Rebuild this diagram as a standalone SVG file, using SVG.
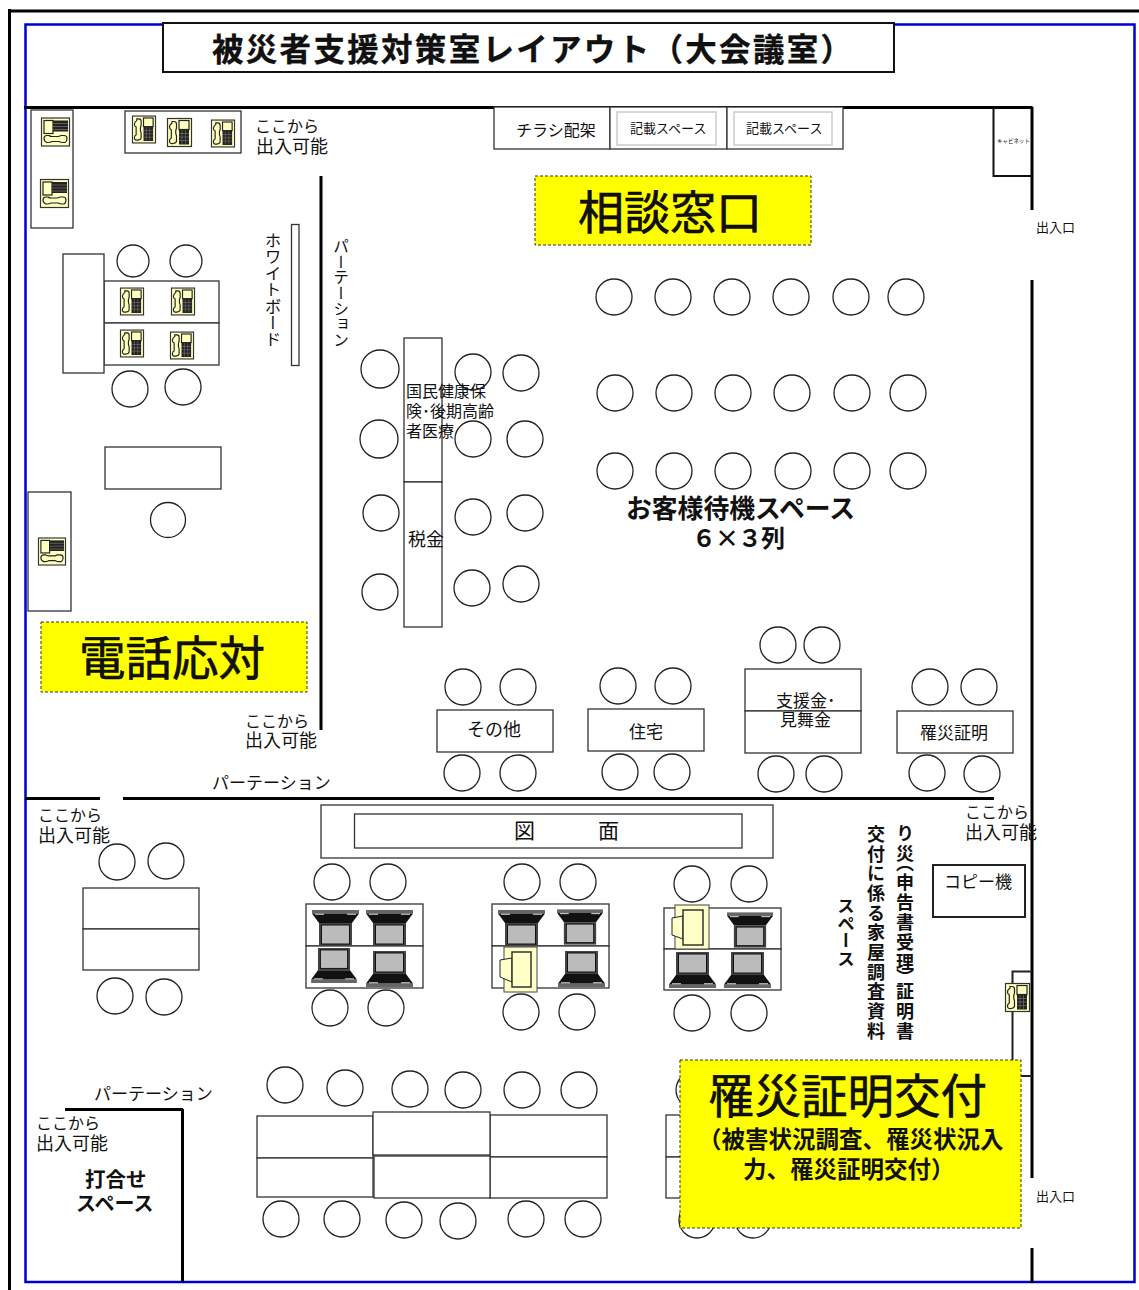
<svg xmlns="http://www.w3.org/2000/svg" width="1139" height="1290" viewBox="0 0 1139 1290">
<style>
text{font-family:"Noto Sans CJK JP","Noto Sans",sans-serif;fill:#111}
.b{font-weight:700}
.h{stroke:#000;stroke-width:.6}
.t{fill:#fff;stroke:#333;stroke-width:1.3}
.c{fill:#fff;stroke:#222;stroke-width:1.3}
.w{fill:none;stroke:#000;stroke-width:3}
.y{fill:#ff0;stroke:#333;stroke-width:1;stroke-dasharray:3 2}
.v{writing-mode:vertical-rl}
.k{font-size:16px}
.d{font-size:18px}
</style>
<defs>
<symbol id="phone" viewBox="0 0 25 29" overflow="visible">
<rect x=".5" y=".5" width="24" height="28" fill="#ffffc0" stroke="#333" stroke-width="1.200"/>
<path d="M5 3.500h2q2.500 0 2.500 2.500v4q-.8 2-.8 4t.8 4v5q0 2-3.500 2.500t-3.500-2.500q0-2 1.800-3v-8q-1.800-1-1.800-3t2.500-4z" fill="#ffffc0" stroke="#222" stroke-width="1.200"/>
<rect x="12" y="2.500" width="10" height="9" fill="#ffffc0" stroke="#222" stroke-width="1.200"/>
<rect x="12" y="11.500" width="10" height="15" fill="#222"/>
<path d="M12 15.500h10M12 19h10M12 22.500h10M15 12v14M18.500 12v14" stroke="#888" stroke-width=".5"/>
</symbol>
<symbol id="phoneL" viewBox="0 0 29 29" overflow="visible">
<rect x=".5" y=".5" width="28" height="28" fill="#ffffc0" stroke="#333" stroke-width="1.200"/>
<rect x="3" y="3" width="9" height="13" fill="#ffffc0" stroke="#222" stroke-width="1.200"/>
<rect x="12" y="3" width="15" height="11" fill="#222"/>
<path d="M12 6h15M12 9h15M12 12h15" stroke="#888" stroke-width=".6"/>
<path d="M6 18q-3 0-3 3t3 4h1q2 0 4-1h7q2 1 4 1h2q2-1 2-4t-3-3h-3q-2 1-3 1h-6q-2 0-3-1z" fill="#ffffc0" stroke="#222" stroke-width="1.200"/>
</symbol>
<symbol id="lap" viewBox="0 0 47 36" overflow="visible">
<rect x="0" y="0" width="47" height="3.500" fill="#666"/>
<path d="M0 3.500h47l-7 9.500H7z" fill="#111"/>
<rect x="3" y="3.600" width="9" height="1.300" fill="#bbb"/><rect x="35" y="3.600" width="9" height="1.300" fill="#bbb"/>
<rect x="7" y="13" width="33" height="23" fill="#444"/>
<rect x="9.500" y="15" width="28" height="19" fill="#bbb" stroke="#111"/>
</symbol>
</defs>
<rect width="1139" height="1290" fill="#fff"/>
<g id="frame">
<path d="M9.500 9V1290M8 11H1139" fill="none" stroke="#000" stroke-width="3"/>
<rect x="25.500" y="24.500" width="1109" height="1257.500" fill="none" stroke="#0000cc" stroke-width="2.500"/>
</g>
<g id="title"><rect x="163" y="23" width="731" height="49" fill="#fff" stroke="#111" stroke-width="2"/>
<text class="b" x="212" y="61" font-size="31.500" textLength="640" lengthAdjust="spacing" stroke="#000" stroke-width=".3">被災者支援対策室レイアウト（大会議室）</text></g>
<g id="connectors">
<path class="w" d="M24 107.500H1032.500M1032 107V210M1032 280V1178M1032 1248V1283" stroke-width="2.500"/>
<path class="w" d="M321 176V730M25 798.500H100M123 798.500H994M65 1109.500H183M182.500 1109V1282"/>
<path d="M1012.500 1060V971.500H1032M1021 1076H1032" fill="none" stroke="#222" stroke-width="2"/>
<path d="M993.500 107V176H1032" fill="none" stroke="#111" stroke-width="2"/>
</g>
<g id="racks">
<rect class="t" x="31" y="110" width="42" height="118"/>
<rect class="t" x="125" y="111" width="116" height="42"/>
<rect class="t" x="28" y="492" width="43" height="119"/>
<rect class="t" x="291.500" y="224.500" width="7.500" height="141"/>
</g>
<g id="counter">
<rect class="t" x="494" y="107" width="116" height="42"/>
<rect class="t" x="610" y="107" width="117" height="42"/>
<rect class="t" x="727" y="107" width="116" height="42"/>
<rect x="617" y="112" width="99" height="33" fill="#fff" stroke="#ccc" stroke-width="1.500"/>
<rect x="734" y="112" width="98" height="33" fill="#fff" stroke="#ccc" stroke-width="1.500"/>
<text x="516" y="136" font-size="16">チラシ配架</text>
<text x="630" y="133" font-size="13">記載スペース</text>
<text x="746" y="133" font-size="13">記載スペース</text>
<text x="997" y="143" font-size="5.500">キャビネット</text>
</g>
<g id="tables">
<rect class="t" x="104" y="281" width="115" height="42"/><rect class="t" x="104" y="323" width="115" height="42"/>
<rect class="t" x="63" y="254" width="41" height="119"/>
<rect class="t" x="105" y="447" width="116" height="42"/>
<rect class="t" x="404" y="338" width="38" height="144"/><rect class="t" x="404" y="482" width="38" height="145"/>
<rect class="t" x="437" y="710" width="116" height="42"/>
<rect class="t" x="588" y="709" width="116" height="42"/>
<rect class="t" x="745" y="669" width="116" height="42"/><rect class="t" x="745" y="711" width="116" height="42"/>
<rect class="t" x="897" y="711" width="116" height="42"/>
<rect class="t" x="321" y="805" width="452" height="53"/><rect class="t" x="354.500" y="814" width="387.500" height="34"/>
<rect class="t" x="83" y="888" width="116" height="41"/><rect class="t" x="83" y="929" width="116" height="41"/>
<rect class="t" x="306" y="904" width="117" height="42"/><rect class="t" x="306" y="946" width="117" height="42"/>
<rect class="t" x="492" y="904" width="117" height="42"/><rect class="t" x="492" y="946" width="117" height="42"/>
<rect class="t" x="664" y="908" width="117" height="41"/><rect class="t" x="664" y="949" width="117" height="41"/>
<rect class="t" x="257" y="1116" width="116" height="42"/><rect class="t" x="257" y="1158" width="116" height="39"/>
<rect class="t" x="490" y="1115" width="117" height="42"/><rect class="t" x="490" y="1157" width="117" height="41"/>
<rect class="t" x="373" y="1112" width="117" height="43" stroke-width="1.500"/><rect class="t" x="374" y="1156" width="116" height="42" stroke-width="1.500"/>
<rect class="t" x="666" y="1115" width="60" height="42"/><rect class="t" x="666" y="1157" width="60" height="41"/>
<rect x="933" y="865" width="92" height="52" fill="#fff" stroke="#222" stroke-width="2"/>
</g>
<g id="seats">
<circle class="c" cx="133" cy="261" r="16"/><circle class="c" cx="186" cy="261" r="16"/><circle class="c" cx="130" cy="389" r="18"/><circle class="c" cx="183" cy="387" r="18"/><circle class="c" cx="168" cy="520" r="17.500"/>
<circle class="c" cx="380" cy="369" r="19"/><circle class="c" cx="473" cy="372" r="18"/><circle class="c" cx="521" cy="373" r="18"/><circle class="c" cx="379" cy="439" r="19"/><circle class="c" cx="473" cy="439" r="18"/><circle class="c" cx="525" cy="439" r="18"/><circle class="c" cx="381" cy="513" r="18"/><circle class="c" cx="473" cy="517" r="18"/><circle class="c" cx="525" cy="513" r="18"/><circle class="c" cx="380" cy="592" r="18"/><circle class="c" cx="472" cy="588" r="18"/><circle class="c" cx="521" cy="584" r="18"/>
<circle class="c" cx="614" cy="297" r="18"/><circle class="c" cx="673" cy="297" r="18"/><circle class="c" cx="732" cy="297" r="18"/><circle class="c" cx="791" cy="297" r="18"/><circle class="c" cx="851" cy="297" r="18"/><circle class="c" cx="906" cy="297" r="18"/>
<circle class="c" cx="615" cy="393" r="18"/><circle class="c" cx="674" cy="393" r="18"/><circle class="c" cx="733" cy="393" r="18"/><circle class="c" cx="792" cy="393" r="18"/><circle class="c" cx="852" cy="393" r="18"/><circle class="c" cx="908" cy="393" r="18"/>
<circle class="c" cx="615" cy="471" r="18"/><circle class="c" cx="674" cy="471" r="18"/><circle class="c" cx="733" cy="471" r="18"/><circle class="c" cx="793" cy="471" r="18"/><circle class="c" cx="852" cy="471" r="18"/><circle class="c" cx="908" cy="471" r="18"/>
<circle class="c" cx="463" cy="687" r="18"/><circle class="c" cx="518" cy="687" r="18"/><circle class="c" cx="618" cy="686" r="18"/><circle class="c" cx="673" cy="686" r="18"/><circle class="c" cx="778" cy="645" r="18"/><circle class="c" cx="822" cy="645" r="18"/><circle class="c" cx="930" cy="687" r="18"/><circle class="c" cx="979" cy="687" r="18"/>
<circle class="c" cx="462" cy="773" r="18"/><circle class="c" cx="518" cy="773" r="18"/><circle class="c" cx="620" cy="772" r="18"/><circle class="c" cx="672" cy="772" r="18"/><circle class="c" cx="776" cy="774" r="18"/><circle class="c" cx="824" cy="774" r="18"/><circle class="c" cx="927" cy="773" r="18"/><circle class="c" cx="982" cy="774" r="18"/>
<circle class="c" cx="117" cy="862" r="18"/><circle class="c" cx="166" cy="861" r="18"/><circle class="c" cx="115" cy="996" r="18"/><circle class="c" cx="164" cy="997" r="18"/>
<circle class="c" cx="332" cy="882" r="18"/><circle class="c" cx="388" cy="882" r="18"/><circle class="c" cx="522" cy="882" r="18"/><circle class="c" cx="578" cy="882" r="18"/><circle class="c" cx="692" cy="884" r="18"/><circle class="c" cx="749" cy="884" r="18"/>
<circle class="c" cx="330" cy="1008" r="18"/><circle class="c" cx="386" cy="1008" r="18"/><circle class="c" cx="521" cy="1012" r="18"/><circle class="c" cx="577" cy="1012" r="18"/><circle class="c" cx="692" cy="1013" r="18"/><circle class="c" cx="749" cy="1013" r="18"/>
<circle class="c" cx="285" cy="1085" r="18"/><circle class="c" cx="345" cy="1088" r="18"/><circle class="c" cx="410" cy="1089" r="18"/><circle class="c" cx="463" cy="1090" r="18"/><circle class="c" cx="522" cy="1090" r="18"/><circle class="c" cx="579" cy="1090" r="18"/><circle class="c" cx="694" cy="1090" r="18"/>
<circle class="c" cx="281" cy="1219" r="18"/><circle class="c" cx="342" cy="1219" r="18"/><circle class="c" cx="404" cy="1220" r="18"/><circle class="c" cx="458" cy="1221" r="18"/><circle class="c" cx="526" cy="1219" r="18"/><circle class="c" cx="583" cy="1219" r="18"/><circle class="c" cx="697" cy="1220" r="18"/><circle class="c" cx="753" cy="1220" r="18"/>
</g>
<g id="phones">
<use href="#phoneL" x="41" y="117" width="29" height="30"/><use href="#phoneL" x="40" y="179" width="29" height="29"/><use href="#phoneL" x="38" y="537" width="28" height="29"/>
<use href="#phone" x="132" y="115" width="24" height="29"/><use href="#phone" x="167" y="118" width="25" height="29"/><use href="#phone" x="211" y="119" width="24" height="29"/>
<use href="#phone" x="120" y="287" width="24" height="29"/><use href="#phone" x="171" y="287" width="24" height="29"/><use href="#phone" x="120" y="329" width="24" height="29"/><use href="#phone" x="170" y="331" width="24" height="29"/>
<use href="#phone" x="1005" y="983" width="25" height="29"/>
</g>
<g id="laptops">
<use href="#lap" x="312" y="910" width="47" height="36"/><use href="#lap" x="366" y="910" width="47" height="36"/><use href="#lap" x="498" y="910" width="47" height="36"/><use href="#lap" x="557" y="909" width="46" height="36"/><use href="#lap" x="727" y="912" width="46" height="36"/>
<use href="#lap" transform="translate(311 983) scale(1 -1)" width="46" height="35"/><use href="#lap" transform="translate(366 987) scale(1 -1)" width="47" height="36"/><use href="#lap" transform="translate(558 987) scale(1 -1)" width="47" height="36"/><use href="#lap" transform="translate(669 988) scale(1 -1)" width="47" height="36"/><use href="#lap" transform="translate(724 988) scale(1 -1)" width="47" height="36"/>
</g>
<g id="documents">
<rect x="504" y="947" width="33" height="45" fill="#ffffc8" stroke="#444"/><path d="M500 960L512 958V982L500 977Z" fill="#ffffc8" stroke="#222"/><rect x="512" y="952" width="19" height="35" fill="#ffffc8" stroke="#333" stroke-width="1.500"/>
<rect x="675" y="905" width="34" height="44" fill="#ffffc8" stroke="#444"/><path d="M672 918L683 916V939L672 935Z" fill="#ffffc8" stroke="#222"/><rect x="683" y="910" width="20" height="35" fill="#ffffc8" stroke="#333" stroke-width="1.500"/>
</g>
<g id="highlights">
<rect class="y" x="535" y="176" width="276" height="69"/>
<text class="h" x="578" y="229" font-size="46">相談窓口</text>
<rect class="y" x="41" y="622" width="266" height="70"/>
<text class="h" x="79" y="675" font-size="46.500">電話応対</text>
<rect class="y" x="680" y="1060" width="341" height="168"/>
<text class="h" x="708" y="1113" font-size="46.500">罹災証明交付</text>
<text class="b" x="698" y="1148" font-size="23.500">（被害状況調査、罹災状況入</text>
<text class="b" x="743" y="1178" font-size="23.500">力、罹災証明交付）</text>
</g>
<g id="labels">
<text class="k" x="255" y="132">ここから</text><text class="d" x="256" y="153">出入可能</text>
<text class="k" x="245" y="727">ここから</text><text class="d" x="245" y="747">出入可能</text>
<text class="k" x="38" y="821">ここから</text><text class="d" x="38" y="842">出入可能</text>
<text class="k" x="965" y="818">ここから</text><text class="d" x="965" y="839">出入可能</text>
<text class="k" x="36" y="1129">ここから</text><text class="d" x="36" y="1150">出入可能</text>
<text x="1036" y="232" font-size="13">出入口</text><text x="1036" y="1201" font-size="13">出入口</text>
<text class="v" x="273" y="232" font-size="16.500">ホワイトボード</text>
<text class="v" x="341" y="238" font-size="15.700">パーテーション</text>
<text x="212" y="789" font-size="17">パーテーション</text>
<text x="94" y="1100" font-size="17">パーテーション</text>
<text x="406" y="397" font-size="16">国民健康保</text><text x="406" y="417" font-size="16">険･後期高齢</text><text x="406" y="437" font-size="16">者医療</text>
<text x="408" y="546" font-size="18">税金</text>
<text class="b" x="626" y="518" font-size="25.800">お客様待機スペース</text>
<text class="b" x="692" y="547" font-size="24" textLength="93" lengthAdjust="spacing">６×３列</text>
<text x="467" y="736" font-size="18">その他</text>
<text x="629" y="738" font-size="17">住宅</text>
<text x="776" y="707" font-size="17">支援金･</text><text x="780" y="726" font-size="17">見舞金</text>
<text x="920" y="739" font-size="17">罹災証明</text>
<text x="514" y="838" font-size="21">図</text><text x="598" y="838" font-size="21">面</text>
<text x="944" y="888" font-size="17">コピー機</text>
<text class="b v" x="905" y="824 844 854 873 893 913 933 953 968 982 1002 1022" font-size="18">り災（申告書受理）証明書</text>
<text class="b v" x="876" y="825" font-size="18" letter-spacing="1.700">交付に係る家屋調査資料</text>
<text class="b v" x="846" y="897" font-size="17.500">スペース</text>
<text class="b" x="85" y="1187" font-size="20.500">打合せ</text>
<text class="b" x="76" y="1211" font-size="20">スペース</text>
</g>
</svg>
